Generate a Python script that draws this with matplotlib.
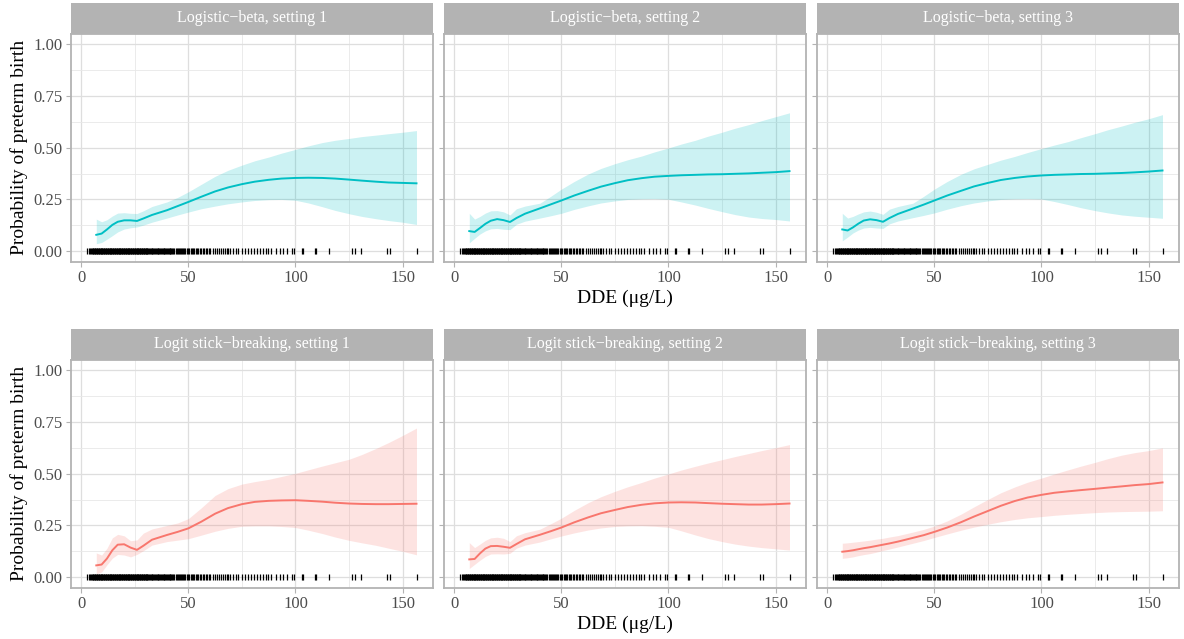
import numpy as np
import matplotlib
matplotlib.use("Agg")
import matplotlib.pyplot as plt
from matplotlib.ticker import MultipleLocator

plt.rcParams['font.family'] = ['Liberation Serif', 'DejaVu Serif']

# DDE grid used for the fitted curves
dde_grid = [7, 9.5, 12, 14.5, 17, 20, 23, 26, 29, 33, 40, 45, 50, 56, 62.5, 68.5, 75,
            81, 87.5, 93.5, 100, 106, 112.5, 118.5, 125, 131, 137.5, 143.5, 150, 156.5]

titles = ["Logistic\u2212beta, setting 1", "Logistic\u2212beta, setting 2",
          "Logistic\u2212beta, setting 3", "Logit stick\u2212breaking, setting 1",
          "Logit stick\u2212breaking, setting 2", "Logit stick\u2212breaking, setting 3"]

mean_lb1 = [0.079, 0.085, 0.105, 0.127, 0.142, 0.149, 0.149, 0.146, 0.158, 0.175, 0.198,
            0.218, 0.238, 0.263, 0.289, 0.308, 0.324, 0.336, 0.345, 0.351, 0.354, 0.355,
            0.354, 0.351, 0.346, 0.341, 0.336, 0.332, 0.330, 0.328]
hi_lb1 = [0.155, 0.142, 0.152, 0.170, 0.184, 0.186, 0.183, 0.182, 0.195, 0.216, 0.238,
          0.260, 0.287, 0.323, 0.362, 0.391, 0.416, 0.437, 0.455, 0.474, 0.492, 0.509,
          0.525, 0.536, 0.545, 0.554, 0.561, 0.568, 0.575, 0.583]
lo_lb1 = [0.036, 0.042, 0.058, 0.075, 0.093, 0.107, 0.113, 0.117, 0.126, 0.140, 0.160,
          0.175, 0.189, 0.205, 0.218, 0.229, 0.238, 0.245, 0.249, 0.250, 0.246, 0.233,
          0.215, 0.197, 0.181, 0.168, 0.157, 0.148, 0.140, 0.129]

mean_lb2 = [0.097, 0.093, 0.112, 0.132, 0.147, 0.155, 0.150, 0.141, 0.160, 0.181, 0.207,
            0.226, 0.245, 0.269, 0.292, 0.312, 0.329, 0.343, 0.353, 0.360, 0.364, 0.367,
            0.369, 0.371, 0.372, 0.374, 0.376, 0.379, 0.382, 0.387]
hi_lb2 = [0.183, 0.155, 0.168, 0.184, 0.195, 0.196, 0.190, 0.175, 0.205, 0.218, 0.232,
          0.265, 0.300, 0.337, 0.373, 0.400, 0.423, 0.442, 0.460, 0.480, 0.499, 0.518,
          0.536, 0.556, 0.575, 0.594, 0.612, 0.631, 0.650, 0.669]
lo_lb2 = [0.040, 0.062, 0.083, 0.098, 0.108, 0.110, 0.106, 0.104, 0.130, 0.145, 0.160,
          0.171, 0.183, 0.202, 0.219, 0.233, 0.243, 0.250, 0.253, 0.254, 0.251, 0.238,
          0.223, 0.207, 0.191, 0.177, 0.165, 0.158, 0.153, 0.146]

mean_lb3 = [0.105, 0.100, 0.115, 0.133, 0.148, 0.154, 0.150, 0.142, 0.160, 0.180, 0.206,
            0.225, 0.245, 0.269, 0.292, 0.313, 0.330, 0.344, 0.354, 0.361, 0.366, 0.369,
            0.371, 0.373, 0.374, 0.376, 0.378, 0.381, 0.385, 0.390]
hi_lb3 = [0.183, 0.160, 0.168, 0.180, 0.190, 0.194, 0.188, 0.178, 0.203, 0.216, 0.232,
          0.265, 0.300, 0.337, 0.372, 0.398, 0.420, 0.440, 0.458, 0.477, 0.496, 0.513,
          0.530, 0.549, 0.568, 0.587, 0.605, 0.623, 0.640, 0.660]
lo_lb3 = [0.050, 0.068, 0.088, 0.102, 0.112, 0.115, 0.112, 0.110, 0.132, 0.146, 0.162,
          0.173, 0.185, 0.203, 0.220, 0.233, 0.243, 0.250, 0.253, 0.254, 0.252, 0.240,
          0.225, 0.210, 0.196, 0.185, 0.175, 0.169, 0.164, 0.159]

mean_sb1 = [0.057, 0.061, 0.090, 0.130, 0.157, 0.159, 0.143, 0.132, 0.152, 0.181, 0.204,
            0.219, 0.236, 0.268, 0.307, 0.334, 0.353, 0.364, 0.369, 0.371, 0.372, 0.369,
            0.365, 0.360, 0.356, 0.354, 0.353, 0.353, 0.354, 0.355]
hi_sb1 = [0.117, 0.107, 0.140, 0.190, 0.207, 0.200, 0.176, 0.180, 0.213, 0.233, 0.250,
          0.262, 0.283, 0.335, 0.395, 0.428, 0.450, 0.462, 0.473, 0.487, 0.502, 0.519,
          0.537, 0.553, 0.570, 0.593, 0.622, 0.651, 0.685, 0.721]
lo_sb1 = [0.016, 0.025, 0.060, 0.092, 0.110, 0.107, 0.098, 0.110, 0.128, 0.155, 0.172,
          0.179, 0.186, 0.203, 0.222, 0.236, 0.246, 0.248, 0.248, 0.245, 0.240, 0.227,
          0.211, 0.194, 0.178, 0.166, 0.154, 0.140, 0.125, 0.108]

mean_sb2 = [0.086, 0.088, 0.115, 0.138, 0.150, 0.151, 0.147, 0.142, 0.160, 0.183, 0.205,
            0.222, 0.240, 0.265, 0.289, 0.309, 0.325, 0.339, 0.350, 0.357, 0.361, 0.362,
            0.361, 0.358, 0.355, 0.353, 0.351, 0.351, 0.353, 0.356]
hi_sb2 = [0.167, 0.143, 0.160, 0.178, 0.190, 0.193, 0.188, 0.172, 0.200, 0.215, 0.232,
          0.258, 0.285, 0.323, 0.360, 0.389, 0.415, 0.437, 0.458, 0.479, 0.499, 0.518,
          0.536, 0.552, 0.568, 0.583, 0.598, 0.612, 0.626, 0.641]
lo_sb2 = [0.042, 0.062, 0.082, 0.100, 0.112, 0.113, 0.112, 0.115, 0.140, 0.155, 0.170,
          0.185, 0.199, 0.214, 0.228, 0.238, 0.245, 0.248, 0.249, 0.246, 0.241, 0.224,
          0.204, 0.187, 0.172, 0.160, 0.150, 0.143, 0.137, 0.131]

mean_sb3 = [0.123, 0.126, 0.130, 0.135, 0.140, 0.145, 0.151, 0.157, 0.163, 0.172, 0.190,
            0.203, 0.219, 0.240, 0.266, 0.293, 0.320, 0.345, 0.368, 0.385, 0.398, 0.408,
            0.415, 0.421, 0.427, 0.433, 0.439, 0.445, 0.450, 0.458]
hi_sb3 = [0.164, 0.166, 0.169, 0.172, 0.175, 0.179, 0.184, 0.188, 0.194, 0.201, 0.218,
          0.231, 0.247, 0.272, 0.305, 0.340, 0.376, 0.408, 0.436, 0.459, 0.479, 0.499,
          0.519, 0.537, 0.555, 0.573, 0.590, 0.602, 0.612, 0.625]
lo_sb3 = [0.091, 0.094, 0.098, 0.104, 0.109, 0.114, 0.121, 0.129, 0.136, 0.146, 0.164,
          0.177, 0.192, 0.209, 0.227, 0.242, 0.256, 0.268, 0.279, 0.287, 0.293, 0.299,
          0.304, 0.308, 0.312, 0.315, 0.317, 0.318, 0.319, 0.321]

# observed DDE values (rug at y = 0)
rug_dde = [2.6, 3.4, 4.1, 4.6, 5.0, 5.3, 5.7, 6.0, 6.3, 6.6, 6.9, 7.2, 7.5, 7.8, 8.1, 8.4,
           8.7, 9.0, 9.3, 9.6, 9.9, 10.2, 10.5, 10.8, 11.1, 11.4, 11.7, 12.0, 12.3, 12.6,
           12.9, 13.2, 13.5, 13.8, 14.1, 14.4, 14.7, 15.0, 15.3, 15.6, 15.9, 16.2, 16.5,
           16.8, 17.1, 17.4, 17.7, 18.0, 18.3, 18.6, 18.9, 19.2, 19.5, 19.8, 20.1, 20.4,
           20.7, 21.0, 21.3, 21.6, 21.9, 22.2, 22.5, 22.8, 23.1, 23.4, 23.7, 24.0, 24.3,
           24.6, 24.9, 25.2, 25.5, 25.8, 26.1, 26.4, 26.7, 27.0, 27.3, 27.6, 27.9, 28.2,
           28.5, 28.8, 29.1, 29.4, 29.7, 30.0, 30.3, 30.6, 30.9, 31.2, 31.6, 32.0, 32.4,
           32.8, 33.2, 33.6, 34.0, 34.4, 34.8, 35.2, 35.6, 36.0, 36.4, 36.8, 37.2, 37.6,
           38.0, 38.4, 38.8, 39.2, 39.6, 40.0, 40.4, 40.8, 41.2, 41.6, 42.0, 42.5, 43.0,
           43.5, 44.0, 44.5, 45.0, 45.5, 46.0, 46.5, 47.0, 47.5, 48.0, 48.6, 49.2, 49.8,
           50.4, 51.0, 51.6, 52.2, 52.8, 53.4, 54.0, 54.7, 55.4, 56.1, 56.8, 57.5, 58.2,
           58.9, 59.6, 60.1, 61.7, 62.5, 63.4, 64.3, 65.1, 66.0, 66.9, 67.8, 68.6, 69.5,
           71.0, 72.1, 73.3, 74.9, 76.5, 77.7, 79.1, 80.7, 81.9, 83.5, 85.0, 86.1, 87.3,
           88.6, 90.9, 92.8, 94.3, 95.9, 98.5, 99.5, 102.9, 103.7, 109.1, 109.6, 115.8,
           126.2, 127.7, 130.8, 142.9, 144.0, 156.5]

panels = [(mean_lb1, lo_lb1, hi_lb1), (mean_lb2, lo_lb2, hi_lb2), (mean_lb3, lo_lb3, hi_lb3),
          (mean_sb1, lo_sb1, hi_sb1), (mean_sb2, lo_sb2, hi_sb2), (mean_sb3, lo_sb3, hi_sb3)]
colors = ["#00BFC4"] * 3 + ["#F8766D"] * 3

W, H = 1184, 639
fig = plt.figure(figsize=(W / 100, H / 100), dpi=100)

lefts = [71, 444, 817]
pw = 362
rows = [(34, 261.5), (360, 587.5)]   # panel top/bottom in pixels
strip_h = 31

for i in range(6):
    r, c = divmod(i, 3)
    top, bot = rows[r]
    ax = fig.add_axes([lefts[c] / W, 1 - bot / H, pw / W, (bot - top) / H])
    mean, lo, hi = panels[i]
    col = colors[i]
    ax.fill_between(dde_grid, lo, hi, color=col, alpha=0.2, linewidth=0, zorder=2)
    ax.plot(dde_grid, mean, color=col, linewidth=1.4, zorder=3)
    ax.plot(rug_dde, np.zeros(len(rug_dde)), linestyle='none', marker='|',
            markersize=3.8, markeredgewidth=0.9, color='black', zorder=4)

    ax.set_xlim(-4.8, 164.2)
    ax.set_ylim(-0.05, 1.05)
    ax.xaxis.set_major_locator(MultipleLocator(50))
    ax.xaxis.set_minor_locator(MultipleLocator(25))
    ax.yaxis.set_major_locator(MultipleLocator(0.25))
    ax.yaxis.set_minor_locator(MultipleLocator(0.125))
    ax.grid(which='major', color='#DEDEDE', linewidth=0.9, zorder=0)
    ax.grid(which='minor', color='#E8E8E8', linewidth=0.6, zorder=0)
    ax.set_axisbelow(True)
    for s in ax.spines.values():
        s.set_color('#B3B3B3')
        s.set_linewidth(1.3)
    ax.tick_params(which='major', length=3.5, width=0.8, color='#B3B3B3',
                   labelsize=12, labelcolor='#4D4D4D', pad=2.5)
    ax.tick_params(which='minor', length=0)
    ax.set_yticks([0, 0.25, 0.5, 0.75, 1.0])
    if c == 0:
        ax.set_yticklabels(["0.00", "0.25", "0.50", "0.75", "1.00"])
        ax.set_ylabel("Probability of preterm birth", fontsize=14, labelpad=4)
    else:
        ax.set_yticklabels([])
    if c == 1:
        ax.set_xlabel("DDE (\u03bcg/L)", fontsize=14, labelpad=3)

    # facet strip
    sax = fig.add_axes([lefts[c] / W, 1 - top / H, pw / W, strip_h / H])
    sax.set_facecolor('#B3B3B3')
    sax.set_xticks([])
    sax.set_yticks([])
    for s in sax.spines.values():
        s.set_visible(False)
    sax.text(0.5, 0.5, titles[i], color='white', fontsize=11.5,
             ha='center', va='center', transform=sax.transAxes)

fig.savefig("out.png", dpi=100)
